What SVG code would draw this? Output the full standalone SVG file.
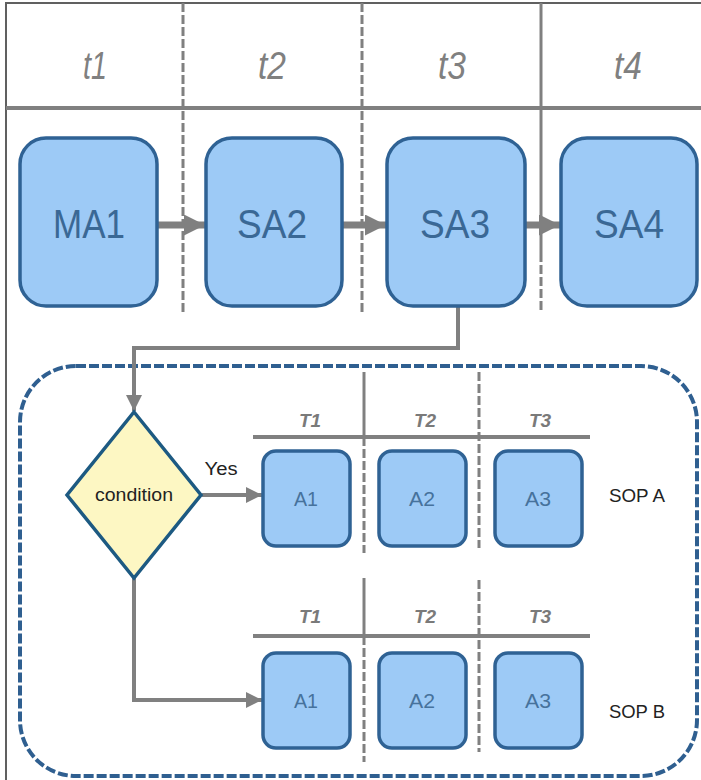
<svg xmlns="http://www.w3.org/2000/svg" width="701" height="780" viewBox="0 0 701 780">
<style>
.frame{stroke:#606060;stroke-width:2;fill:none}
.hline{stroke:#808080;stroke-width:4;fill:none}
.div{stroke:#808080;stroke-width:3;fill:none;stroke-dasharray:9 3}
.divs{stroke:#808080;stroke-width:3;fill:none}
.box{fill:#9dcaf6;stroke:#2f6294;stroke-width:3.5}
.big{font-family:"Liberation Sans",sans-serif;font-size:40px;fill:#3a6895;text-anchor:middle}
.sm{font-family:"Liberation Sans",sans-serif;font-size:21px;fill:#46729c;text-anchor:middle}
.hdr{font-family:"Liberation Sans",sans-serif;font-size:38px;font-style:italic;fill:#808080;text-anchor:middle}
.shdr{font-family:"Liberation Sans",sans-serif;font-size:19px;font-style:italic;font-weight:bold;fill:#7a7a7a;text-anchor:middle}
.lbl{font-family:"Liberation Sans",sans-serif;font-size:18px;fill:#222;text-anchor:middle}
.conn{stroke:#808080;fill:none}
</style>
<defs>
<marker id="ah" viewBox="0 0 10 10" refX="10" refY="5" markerWidth="3.4" markerHeight="3" orient="auto" markerUnits="strokeWidth"><path d="M0,0 L10,5 L0,10 z" fill="#808080"/></marker>
<marker id="ah2" viewBox="0 0 10 10" refX="10" refY="5" markerWidth="5.5" markerHeight="4" orient="auto" markerUnits="strokeWidth"><path d="M0,0 L10,5 L0,10 z" fill="#808080"/></marker>
</defs>
<rect width="701" height="780" fill="#ffffff"/>
<g id="frame">
<path class="frame" d="M6,780 L6,3 L701,3"/>
<line class="hline" x1="6" y1="108" x2="701" y2="108"/>
<line class="div" x1="183" y1="3" x2="183" y2="312"/>
<line class="div" x1="362" y1="3" x2="362" y2="312"/>
<line class="divs" x1="541" y1="3" x2="541" y2="253"/>
<line class="div" x1="541" y1="253" x2="541" y2="312"/>
<text class="hdr" x="95" y="79" textLength="24" lengthAdjust="spacingAndGlyphs">t1</text>
<text class="hdr" x="272" y="79" textLength="28" lengthAdjust="spacingAndGlyphs">t2</text>
<text class="hdr" x="452" y="79" textLength="28" lengthAdjust="spacingAndGlyphs">t3</text>
<text class="hdr" x="628" y="79" textLength="28" lengthAdjust="spacingAndGlyphs">t4</text>
</g>
<g id="container">
<rect x="20" y="366" width="677" height="410" rx="56" ry="56" fill="none" stroke="#2f5f90" stroke-width="4" stroke-dasharray="10 3"/>
</g>
<g id="sopA-header">
<line class="hline" x1="253" y1="437" x2="590" y2="437"/>
<line class="divs" x1="364" y1="372" x2="364" y2="437"/>
<line class="div" x1="364" y1="437" x2="364" y2="553"/>
<line class="div" x1="479" y1="372" x2="479" y2="548"/>
<text class="shdr" x="310" y="427">T1</text>
<text class="shdr" x="425" y="427">T2</text>
<text class="shdr" x="540" y="427">T3</text>
</g>
<g id="sopB-header">
<line class="hline" x1="253" y1="636" x2="590" y2="636"/>
<line class="divs" x1="364" y1="578" x2="364" y2="636"/>
<line class="div" x1="364" y1="636" x2="364" y2="762"/>
<line class="div" x1="479" y1="580" x2="479" y2="752"/>
<text class="shdr" x="310" y="623">T1</text>
<text class="shdr" x="425" y="623">T2</text>
<text class="shdr" x="540" y="623">T3</text>
</g>
<g id="connectors">
<line class="conn" stroke-width="7" x1="157" y1="225" x2="205" y2="225" marker-end="url(#ah)"/>
<line class="conn" stroke-width="7" x1="342" y1="225" x2="386" y2="225" marker-end="url(#ah)"/>
<line class="conn" stroke-width="7" x1="525" y1="225" x2="560" y2="225" marker-end="url(#ah)"/>
<path class="conn" stroke-width="4" d="M458,307 L458,348 L134,348 L134,411" marker-end="url(#ah2)"/>
<line class="conn" stroke-width="4" x1="202" y1="495" x2="262" y2="495" marker-end="url(#ah2)"/>
<path class="conn" stroke-width="4" d="M134,578 L134,700 L262,700" marker-end="url(#ah2)"/>
<text class="lbl" x="221" y="475" textLength="33" lengthAdjust="spacingAndGlyphs">Yes</text>
</g>
<g id="MA1"><rect class="box" x="20" y="138" width="137" height="168" rx="26"/><text class="big" x="89" y="238" textLength="72" lengthAdjust="spacingAndGlyphs">MA1</text></g>
<g id="SA2"><rect class="box" x="206" y="138" width="136" height="168" rx="26"/><text class="big" x="272" y="238" textLength="70" lengthAdjust="spacingAndGlyphs">SA2</text></g>
<g id="SA3"><rect class="box" x="387" y="138" width="138" height="168" rx="26"/><text class="big" x="455" y="238" textLength="70" lengthAdjust="spacingAndGlyphs">SA3</text></g>
<g id="SA4"><rect class="box" x="561" y="138" width="136" height="168" rx="26"/><text class="big" x="629" y="238" textLength="70" lengthAdjust="spacingAndGlyphs">SA4</text></g>
<g id="condition"><polygon points="134,412 201,495 134,578 67,495" fill="#fdf7c3" stroke="#1d5a82" stroke-width="3.5" stroke-linejoin="miter"/><text class="lbl" x="134" y="501" fill="#333" textLength="78" lengthAdjust="spacingAndGlyphs">condition</text></g>
<g id="A1a"><rect class="box" x="263" y="451" width="87" height="95" rx="13"/><text class="sm" x="306" y="506" textLength="24" lengthAdjust="spacingAndGlyphs">A1</text></g>
<g id="A2a"><rect class="box" x="379" y="451" width="87" height="95" rx="13"/><text class="sm" x="422" y="506" textLength="26" lengthAdjust="spacingAndGlyphs">A2</text></g>
<g id="A3a"><rect class="box" x="495" y="451" width="87" height="95" rx="13"/><text class="sm" x="538" y="506" textLength="26" lengthAdjust="spacingAndGlyphs">A3</text></g>
<g id="SOPA"><text class="lbl" x="637" y="502" textLength="56" lengthAdjust="spacingAndGlyphs">SOP A</text></g>
<g id="A1b"><rect class="box" x="263" y="653" width="87" height="95" rx="13"/><text class="sm" x="306" y="708" textLength="24" lengthAdjust="spacingAndGlyphs">A1</text></g>
<g id="A2b"><rect class="box" x="379" y="653" width="87" height="95" rx="13"/><text class="sm" x="422" y="708" textLength="26" lengthAdjust="spacingAndGlyphs">A2</text></g>
<g id="A3b"><rect class="box" x="495" y="653" width="87" height="95" rx="13"/><text class="sm" x="538" y="708" textLength="26" lengthAdjust="spacingAndGlyphs">A3</text></g>
<g id="SOPB"><text class="lbl" x="637" y="718" textLength="56" lengthAdjust="spacingAndGlyphs">SOP B</text></g>
</svg>
